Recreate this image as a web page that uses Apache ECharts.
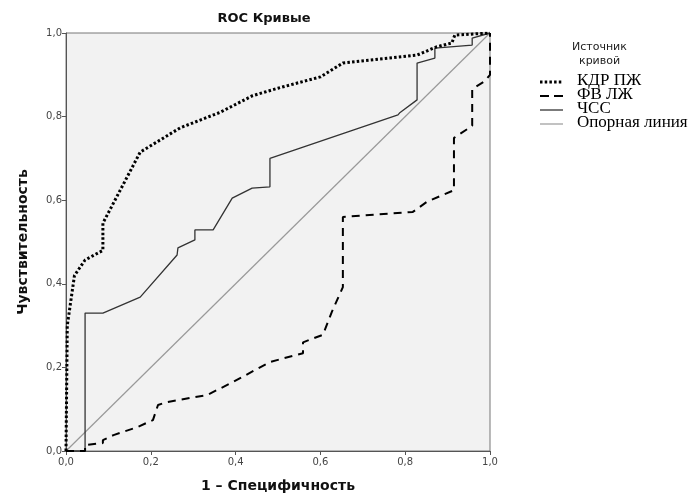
<!DOCTYPE html>
<html>
<head>
<meta charset="utf-8">
<script src="https://cdn.jsdelivr.net/npm/echarts@6/dist/echarts.min.js"></script>
<style>
  html, body { margin: 0; padding: 0; background: #fff; }
  #chart { width: 690px; height: 495px; }
</style>
</head>
<body>
<div id="chart"></div>
<script>
// КДР ПЖ (dotted)
const kdrFpr = [0, 0.003, 0.02, 0.045, 0.087, 0.087, 0.175, 0.269, 0.363, 0.44, 0.5, 0.6, 0.653, 0.828, 0.874, 0.91, 0.917, 1];
const kdrTpr = [0, 0.3, 0.42, 0.457, 0.48, 0.545, 0.715, 0.773, 0.81, 0.85, 0.868, 0.895, 0.928, 0.947, 0.967, 0.976, 0.995, 1];

// ФВ ЛЖ (dashed)
const fvFpr = [0, 0.045, 0.045, 0.087, 0.087, 0.112, 0.168, 0.205, 0.217, 0.238, 0.333, 0.394, 0.481, 0.559, 0.559, 0.606, 0.627, 0.653, 0.653, 0.818, 0.851, 0.915, 0.915, 0.958, 0.958, 0.988, 1, 1];
const fvTpr = [0, 0, 0.014, 0.019, 0.026, 0.038, 0.057, 0.074, 0.11, 0.117, 0.134, 0.165, 0.213, 0.234, 0.26, 0.278, 0.333, 0.392, 0.56, 0.572, 0.596, 0.624, 0.749, 0.778, 0.866, 0.885, 0.9, 1];

// ЧСС (solid)
const hrFpr = [0, 0.045, 0.045, 0.087, 0.175, 0.262, 0.264, 0.304, 0.304, 0.347, 0.392, 0.439, 0.481, 0.481, 0.783, 0.788, 0.828, 0.828, 0.87, 0.87, 0.958, 0.958, 1];
const hrTpr = [0, 0, 0.33, 0.33, 0.368, 0.469, 0.486, 0.505, 0.529, 0.529, 0.605, 0.629, 0.632, 0.70, 0.804, 0.81, 0.84, 0.928, 0.94, 0.964, 0.971, 0.988, 1];

// Опорная линия
const refFpr = [0, 1];
const refTpr = [0, 1];

const seriesNames = ['КДР ПЖ', 'ФВ ЛЖ', 'ЧСС', 'Опорная линия'];
const tickLabels = ['0,0', '0,2', '0,4', '0,6', '0,8', '1,0'];

const lineStyles = [
    {color: '#000', width: 3, type: [2.5, 2.2], cap: 'butt'},
    {color: '#000', width: 2, type: [8, 6], cap: 'butt'},
    {color: '#333', width: 1.3, type: 'solid'},
    {color: '#999', width: 1.2, type: 'solid'}
];

function zip(xs, ys) {
    return xs.map((x, i) => [x, ys[i]]);
}

const myChart = echarts.init(document.getElementById('chart'));

const axisCommon = {
    type: 'value',
    min: 0,
    max: 1,
    interval: 0.2,
    axisLine: {show: true, lineStyle: {color: '#555', width: 1}},
    axisTick: {show: true, length: 4, lineStyle: {color: '#555'}},
    axisLabel: {
        color: '#444',
        fontSize: 10,
        fontFamily: 'DejaVu Sans',
        formatter: v => tickLabels[Math.round(v / 0.2)]
    },
    splitLine: {show: false}
};

// legend drawn by hand (line samples + serif labels)
const legendRows = [82, 96, 110, 124];
const legendDash = [[2.5, 2.2], [9, 5], null, null];
const legendGraphic = [{
    type: 'text',
    left: 572,
    top: 40,
    style: {
        text: 'Источник\n  кривой',
        fontSize: 11,
        lineHeight: 14,
        fontFamily: 'DejaVu Sans',
        fill: '#222'
    }
}];
seriesNames.forEach((name, i) => {
    const ls = lineStyles[i];
    legendGraphic.push({
        type: 'line',
        shape: {x1: 540, y1: legendRows[i], x2: 563, y2: legendRows[i]},
        style: {
            stroke: ls.color,
            lineWidth: i === 0 ? 3 : (i === 1 ? 2 : ls.width),
            lineDash: legendDash[i] || null
        }
    });
    legendGraphic.push({
        type: 'text',
        left: 577,
        top: legendRows[i] - 10,
        style: {text: name, fontSize: 17, fontFamily: 'Liberation Serif', fill: '#000'}
    });
});

const option = {
    animation: false,
    backgroundColor: '#fff',
    title: {
        text: 'ROC Кривые',
        left: 259,
        top: 7,
        textAlign: 'center',
        textStyle: {fontSize: 13, fontWeight: 'bold', color: '#111', fontFamily: 'DejaVu Sans'}
    },
    grid: {
        left: 66, right: 200, top: 33, bottom: 44,
        outerBoundsMode: 'none',
        containLabel: false,
        show: true,
        backgroundColor: '#f2f2f2',
        borderColor: '#777',
        borderWidth: 1
    },
    xAxis: Object.assign({}, axisCommon, {
        name: '1 – Специфичность',
        nameLocation: 'middle',
        nameGap: 28,
        nameTextStyle: {fontSize: 14, fontWeight: 'bold', color: '#111', fontFamily: 'DejaVu Sans'},
        axisLabel: Object.assign({}, axisCommon.axisLabel, {margin: 6})
    }),
    yAxis: Object.assign({}, axisCommon, {
        name: 'Чувствительность',
        nameLocation: 'middle',
        nameGap: 36,
        nameTextStyle: {fontSize: 14, fontWeight: 'bold', color: '#111', fontFamily: 'DejaVu Sans'},
        axisLabel: Object.assign({}, axisCommon.axisLabel, {margin: 4})
    }),
    graphic: legendGraphic,
    series: [
        {name: seriesNames[0], type: 'line', symbol: 'none', data: zip(kdrFpr, kdrTpr), lineStyle: lineStyles[0], z: 5},
        {name: seriesNames[1], type: 'line', symbol: 'none', data: zip(fvFpr, fvTpr), lineStyle: lineStyles[1], z: 4},
        {name: seriesNames[2], type: 'line', symbol: 'none', data: zip(hrFpr, hrTpr), lineStyle: lineStyles[2], z: 3},
        {name: seriesNames[3], type: 'line', symbol: 'none', data: zip(refFpr, refTpr), lineStyle: lineStyles[3], z: 2}
    ]
};

myChart.setOption(option);
</script>
</body>
</html>
